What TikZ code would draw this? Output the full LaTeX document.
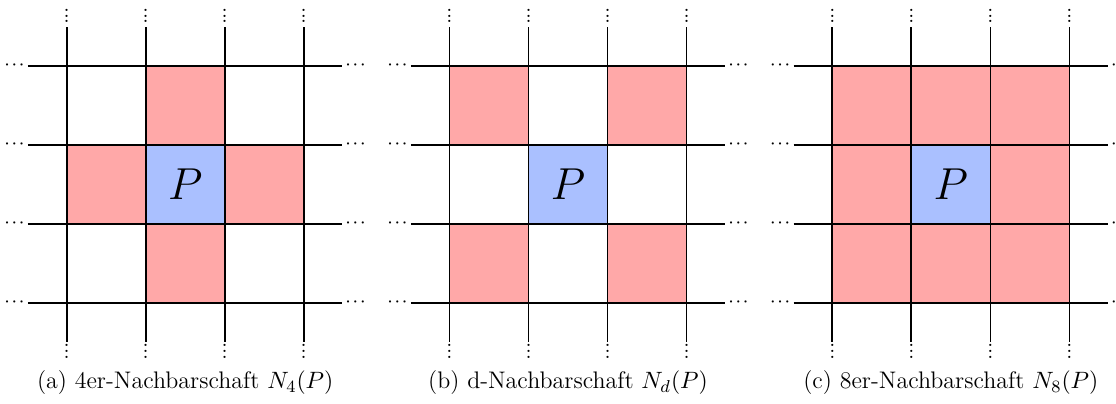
\documentclass[tikz,border=0pt]{standalone}
\usepackage{xcolor}

\definecolor{nbred}{RGB}{255,168,168}
\definecolor{nbblue}{RGB}{170,192,255}

\begin{document}
\begin{tikzpicture}[x=36.6pt, y=36.6pt,
    gridline/.style={line width=0.8pt},
    nbcell/.style={fill=nbred},
    pcell/.style={fill=nbblue, minimum size=36.6pt, inner sep=0pt, font=\fontsize{21.5}{26}\selectfont},
    dotsnode/.style={inner sep=0pt, scale=0.66, font=\bfseries\boldmath},
    subcap/.style={anchor=base, font=\fontsize{11.1}{13.6}\selectfont}]
    \useasboundingbox (-0.844,-1.275) rectangle (13.28,3.832);

    \foreach \k/\cells/\lbl in {
        0/{0/1,1/0,2/1,1/2}/{(a)~4er-Nachbarschaft $N_4(P)$},
        1/{0/0,2/0,0/2,2/2}/{(b)~d-Nachbarschaft $N_d(P)$},
        2/{0/0,1/0,2/0,0/1,2/1,0/2,1/2,2/2}/{(c)~8er-Nachbarschaft $N_8(P)$}} {
      \begin{scope}[shift={(\k*4.845,0)}]
        % Nachbarn und Mittelpunkt
        \foreach \i/\j in \cells
          \fill[nbcell] (\i,\j) rectangle ++(1,1);
        \node[pcell] (P\k) at (1.5,1.5) {$P$};
        % Gitter
        \foreach \t in {0,...,3} {
          \draw[gridline] (\t,-0.49) -- (\t,3.49);
          \draw[gridline] (-0.49,\t) -- (3.49,\t);
          \node[dotsnode, anchor=south] (top\k\t) at (\t,3.541) {$\vdots$};
          \node[dotsnode, anchor=south] (bot\k\t) at (\t,-0.706) {$\vdots$};
          \node[dotsnode, anchor=mid east] (left\k\t) at (-0.536,\t) {$\cdots$};
          \node[dotsnode, anchor=mid west] (right\k\t) at (3.531,\t) {$\cdots$};
        }
        \node[subcap] (cap\k) at (1.5,-1.086) {\lbl};
      \end{scope}
    }
\end{tikzpicture}
\end{document}
